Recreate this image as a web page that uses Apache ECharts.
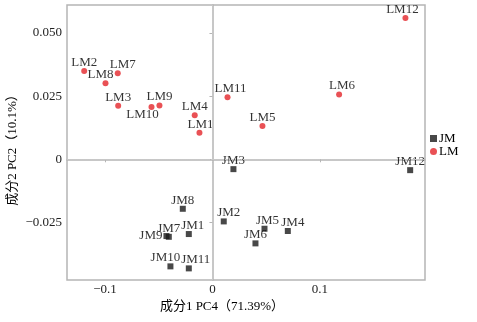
<!DOCTYPE html>
<html>
<head>
<meta charset="utf-8">
<script src="https://cdn.jsdelivr.net/npm/echarts@6/dist/echarts.min.js"></script>
<style>html,body{margin:0;padding:0;background:#fff}#c{width:477px;height:322px}</style>
</head>
<body>
<div id="c"></div>
<script>
// ---- data ----
const jmNames = ['JM1','JM2','JM3','JM4','JM5','JM6','JM7','JM8','JM9','JM10','JM11','JM12'];
const jmX = [-0.0220, 0.0105, 0.0195, 0.0701, 0.0484, 0.0400, -0.0406, -0.0276, -0.0428, -0.0391, -0.0220, 0.1839];
const jmY = [-0.0296, -0.0246, -0.0039, -0.0284, -0.0275, -0.0333, -0.0307, -0.0196, -0.0304, -0.0424, -0.0432, -0.0043];

const lmNames = ['LM1','LM2','LM3','LM4','LM5','LM6','LM7','LM8','LM9','LM10','LM11','LM12'];
const lmX = [-0.0121, -0.1193, -0.0877, -0.0165, 0.0465, 0.1178, -0.0881, -0.0995, -0.0493, -0.0567, 0.0140, 0.1795];
const lmY = [0.0105, 0.0350, 0.0212, 0.0174, 0.0132, 0.0257, 0.0341, 0.0301, 0.0213, 0.0207, 0.0246, 0.0560];

const xTicks = [-0.1, 0, 0.1];
const xTickLabels = ['\u22120.1', '0', '0.1'];
const yTicks = [-0.025, 0, 0.025, 0.05];
const yTickLabels = ['\u22120.025', '0', '0.025', '0.050'];

const groupNames = ['JM', 'LM'];
const xName = '成分1 PC4（71.39%）';
const yName = '成分2 PC2（10.1%）';

// ---- label placement tweaks (style, not data) ----
const labelTweaks = {
  LM7: {offset: [5, 0]},
  LM8: {offset: [-5, 0]},
  LM10: {position: 'bottom', offset: [-9, -1]},
  LM12: {offset: [-3, 0]},
  LM1: {offset: [1, 0]},
  LM11: {offset: [3, 0]},
  LM6: {offset: [3, 0]},
  JM1: {offset: [4, 0]},
  JM2: {offset: [5, 0]},
  JM4: {offset: [5, 0]},
  JM5: {offset: [3, 0]},
  JM9: {position: 'left', distance: 1},
  JM10: {offset: [-5, 0]},
  JM11: {offset: [7, 0]}
};

const FONT = '"Liberation Serif", "Noto Sans CJK SC", serif';
const AX = '#b5b5b5';

function build(names, xs, ys) {
  return names.map((n, i) => {
    const item = {name: n, value: [xs[i], ys[i]]};
    if (labelTweaks[n]) item.label = labelTweaks[n];
    return item;
  });
}

function fmt(vals, labels) {
  return v => {
    for (let i = 0; i < vals.length; i++) if (Math.abs(v - vals[i]) < 1e-9) return labels[i];
    return '';
  };
}

const baseLabel = {
  show: true,
  position: 'top',
  distance: -1,
  formatter: p => p.name,
  fontFamily: FONT,
  fontSize: 13,
  lineHeight: 13,
  color: '#000'
};

const chart = echarts.init(document.getElementById('c'), null, {renderer: 'canvas'});
chart.setOption({
  animation: false,
  backgroundColor: '#fff',
  grid: {left: 67, right: 52, top: 5, bottom: 42, outerBoundsMode: 'none', containLabel: false,
         show: true, borderColor: AX, borderWidth: 1.5, backgroundColor: 'transparent'},
  graphic: [{
    type: 'text', x: 13, y: 147, rotation: Math.PI / 2, silent: true,
    style: {text: yName, fontFamily: FONT, fontSize: 13, fill: '#000', align: 'center', verticalAlign: 'middle'}
  }],
  legend: {
    data: [{name: groupNames[0], icon: 'rect'}, {name: groupNames[1], icon: 'circle'}],
    orient: 'vertical', left: 430, top: 132, padding: 0,
    itemWidth: 7, itemHeight: 7, itemGap: 0,
    textStyle: {fontFamily: FONT, fontSize: 13, lineHeight: 12, color: '#000', padding: [0, 0, 0, -3]}
  },
  xAxis: {
    type: 'value', min: -0.1353, max: 0.1977,
    name: xName, nameLocation: 'middle', nameGap: 20, nameMoveOverlap: false,
    nameTextStyle: {fontFamily: FONT, fontSize: 13, color: '#000', padding: [0, 48, 0, 0]},
    axisLine: {show: true, lineStyle: {color: AX, width: 1.5}},
    axisTick: {show: true, length: 3, lineStyle: {color: AX}, customValues: xTicks},
    axisLabel: {fontFamily: FONT, fontSize: 13, color: '#222', margin: 3, customValues: xTicks, formatter: fmt(xTicks, xTickLabels)},
    splitLine: {show: false}
  },
  yAxis: {
    type: 'value', min: -0.0478, max: 0.0611,
    axisLine: {show: true, lineStyle: {color: AX, width: 1.5}},
    axisTick: {show: true, length: 3, lineStyle: {color: AX}, customValues: yTicks},
    axisLabel: {fontFamily: FONT, fontSize: 13, color: '#222', margin: 5, customValues: yTicks, formatter: fmt(yTicks, yTickLabels)},
    splitLine: {show: false}
  },
  series: [
    {
      name: groupNames[0], type: 'scatter', symbol: 'rect', symbolSize: 6,
      itemStyle: {color: '#1a1a1a'},
      label: baseLabel,
      data: build(jmNames, jmX, jmY),
      z: 3
    },
    {
      name: groupNames[1], type: 'scatter', symbol: 'circle', symbolSize: 6,
      itemStyle: {color: '#e3262b'},
      label: baseLabel,
      data: build(lmNames, lmX, lmY),
      markLine: {
        silent: true, symbol: 'none', label: {show: false},
        lineStyle: {type: 'dotted', color: '#c8c8c8', width: 1},
        data: [{xAxis: 0}, {yAxis: 0}]
      },
      z: 3
    }
  ]
});
</script>
</body>
</html>
